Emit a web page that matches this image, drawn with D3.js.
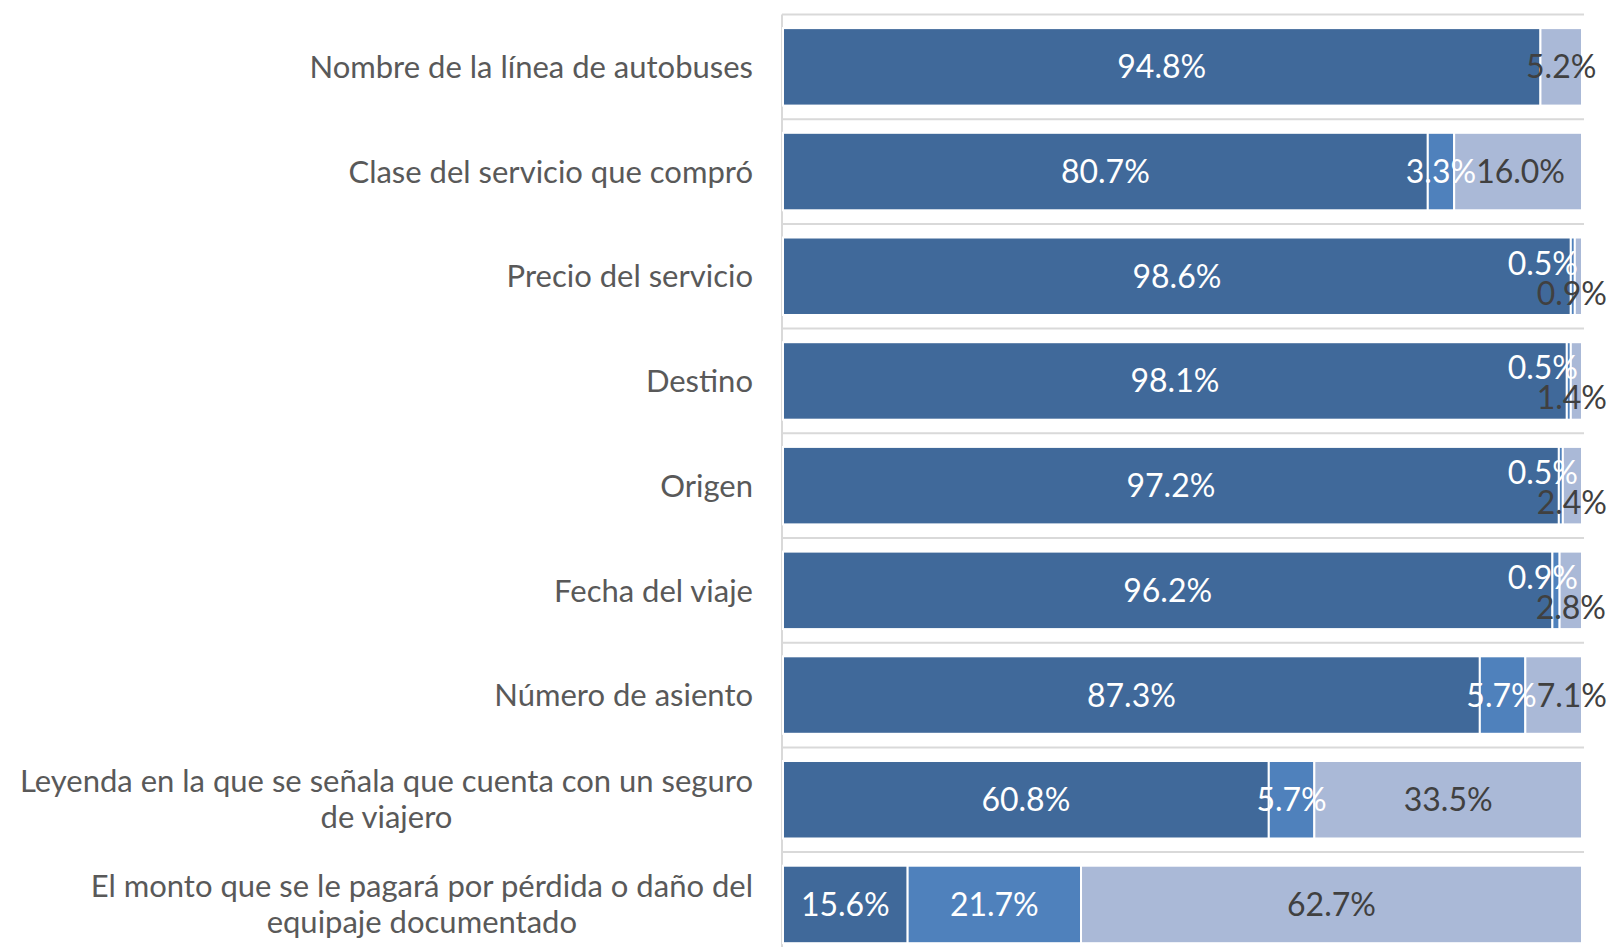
<!DOCTYPE html>
<html lang="es">
<head>
<meta charset="UTF-8"/>
<title>Información en el boleto</title>
<script src="https://d3js.org/d3.v7.min.js"></script>
<style>
    body { margin: 0; background: #fff; }
    svg text { font-family: Lato, "Open Sans", sans-serif; }
</style>
</head>
<body>
<div id="chart"></div>
<script>
    // categories (top to bottom)
    var categories = [
        "Nombre de la línea de autobuses",
        "Clase del servicio que compró",
        "Precio del servicio",
        "Destino",
        "Origen",
        "Fecha del viaje",
        "Número de asiento",
        "Leyenda en la que se señala que cuenta con un seguro de viajero",
        "El monto que se le pagará por pérdida o daño del equipaje documentado"
    ];
    // line breaks for the long labels
    var labelLines = [
        ["Nombre de la línea de autobuses"],
        ["Clase del servicio que compró"],
        ["Precio del servicio"],
        ["Destino"],
        ["Origen"],
        ["Fecha del viaje"],
        ["Número de asiento"],
        ["Leyenda en la que se señala que cuenta con un seguro", "de viajero"],
        ["El monto que se le pagará por pérdida o daño del", "equipaje documentado"]
    ];

    // three series, values in %
    var serie1 = [94.8, 80.7, 98.6, 98.1, 97.2, 96.2, 87.3, 60.8, 15.6];
    var serie2 = [0, 3.3, 0.5, 0.5, 0.5, 0.9, 5.7, 5.7, 21.7];
    var serie3 = [5.2, 16.0, 0.9, 1.4, 2.4, 2.8, 7.1, 33.5, 62.7];

    var keys = ["s1", "s2", "s3"];
    var colors = { s1: "#40699A", s2: "#4F81BC", s3: "#AAB9D7" };
    var textColors = { s1: "#ffffff", s2: "#ffffff", s3: "#404040" };

    var rows = categories.map(function(c, i) {
        return { cat: c, s1: serie1[i], s2: serie2[i], s3: serie3[i] };
    });

    var w = 1610;
    var h = 947;
    var marginLeft = 783;
    var plotRight = 1582;
    var marginTop = 14.5;
    var step = 104.7;
    var catFont = 31;
    var valFont = 32;

    var stack = d3.stack().keys(keys).offset(d3.stackOffsetExpand);
    var series = stack(rows);

    var x = d3.scaleLinear().domain([0, 1]).range([marginLeft, plotRight]);
    var y = d3.scaleBand()
                .domain(categories)
                .range([marginTop, marginTop + step * categories.length])
                .paddingInner(0.26)
                .paddingOuter(0.13);

    var svg = d3.select("#chart")
                .append("svg")
                .attr("width", w)
                .attr("height", h);

    // gridlines between categories
    svg.selectAll("line.grid")
        .data(d3.range(categories.length + 1))
        .enter()
        .append("line")
        .attr("class", "grid")
        .attr("x1", marginLeft - 1)
        .attr("x2", plotRight + 2)
        .attr("y1", function(i) { return marginTop + i * y.step(); })
        .attr("y2", function(i) { return marginTop + i * y.step(); })
        .attr("stroke", "#d9d9d9")
        .attr("stroke-width", 2);

    // vertical axis line
    svg.append("line")
        .attr("x1", marginLeft - 1).attr("x2", marginLeft - 1)
        .attr("y1", marginTop).attr("y2", h)
        .attr("stroke", "#d9d9d9")
        .attr("stroke-width", 2);

    // bars
    var groups = svg.selectAll("g.serie")
        .data(series)
        .enter()
        .append("g")
        .attr("fill", function(d) { return colors[d.key]; });

    groups.selectAll("rect")
        .data(function(d) { return d.filter(function(p) { return p[1] - p[0] > 0; }); })
        .enter()
        .append("rect")
        .attr("x", function(d) { return x(d[0]); })
        .attr("y", function(d) { return y(d.data.cat); })
        .attr("width", function(d) { return x(d[1]) - x(d[0]); })
        .attr("height", y.bandwidth())
        .attr("stroke", "#fff")
        .attr("stroke-width", 2);

    // data labels
    var placed = categories.map(function() { return {}; });
    series.forEach(function(s) {
        s.forEach(function(p, i) {
            var v = p.data[s.key];
            if (!v) return;
            var cx = (x(p[0]) + x(p[1])) / 2;
            var cy = y(p.data.cat) + y.bandwidth() / 2;
            var small = p.data.s2 + p.data.s3 < 5;
            var dy = 0;
            if (small && s.key === "s2") { dy = -13; }
            if (small && s.key === "s3") { dy = 17; }
            var t = svg.append("text")
                .text(v.toFixed(1) + "%")
                .attr("x", cx)
                .attr("y", cy + dy)
                .attr("dy", "0.36em")
                .attr("text-anchor", "middle")
                .attr("font-size", valFont)
                .attr("fill", textColors[s.key]);
            // keep small labels inside the picture
            var bw = t.node().getBBox().width;
            var maxRight = s.key === "s2" ? 1578 : 1607;
            if (cx + bw / 2 > maxRight) {
                cx = maxRight - bw / 2;
                t.attr("x", cx);
            }
            placed[i][s.key] = { node: t, cx: cx, w: bw, max: maxRight, small: small };
        });
    });

    // resolve side by side overlaps of the 2nd and 3rd labels
    placed.forEach(function(r) {
        if (!r.s2 || !r.s3 || r.s2.small) return;
        var over = (r.s2.cx + r.s2.w / 2) - (r.s3.cx - r.s3.w / 2);
        if (over <= 0) return;
        var room = r.s3.max - (r.s3.cx + r.s3.w / 2);
        var move3 = Math.min(over, room);
        r.s3.node.attr("x", r.s3.cx + move3);
        r.s2.node.attr("x", r.s2.cx - (over - move3));
    });

    // category labels
    var labelRight = 753;
    var lineH = 36;
    categories.forEach(function(c, i) {
        var lines = labelLines[i];
        var cy = y(c) + y.bandwidth() / 2;
        var g = svg.append("text")
            .attr("font-size", catFont)
            .attr("fill", "#595959");
        if (lines.length === 1) {
            g.append("tspan")
                .attr("x", labelRight)
                .attr("y", cy)
                .attr("dy", "0.36em")
                .attr("text-anchor", "end")
                .text(lines[0]);
        } else {
            // measure the widest line, center the lines on it
            var tmp = svg.append("text").attr("font-size", catFont).text(lines[0]);
            var wid = tmp.node().getBBox().width;
            tmp.remove();
            var mid = labelRight - wid / 2;
            lines.forEach(function(l, k) {
                g.append("tspan")
                    .attr("x", mid)
                    .attr("y", cy - 1 + (k - (lines.length - 1) / 2) * lineH)
                    .attr("dy", "0.36em")
                    .attr("text-anchor", "middle")
                    .text(l);
            });
        }
    });
</script>
</body>
</html>
